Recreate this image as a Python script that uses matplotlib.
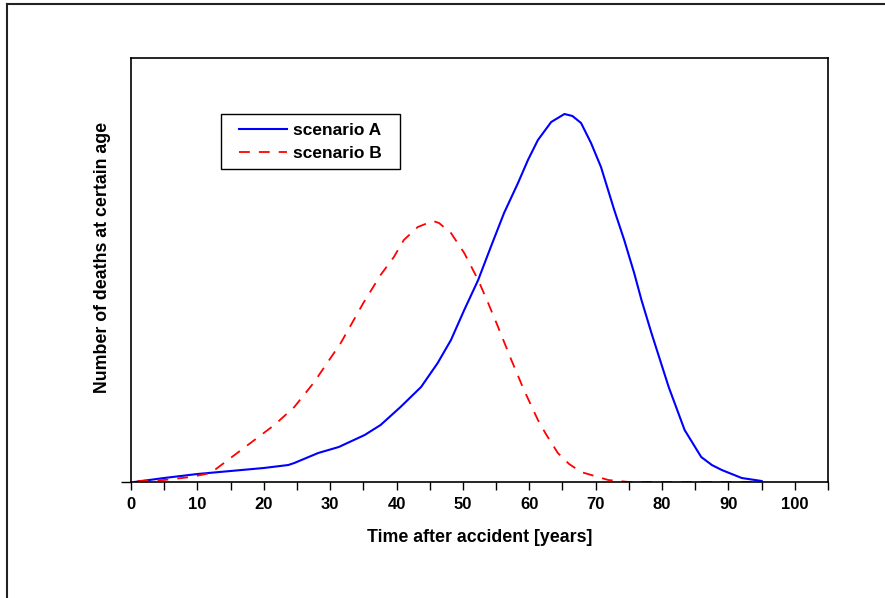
import matplotlib
matplotlib.use("Agg")
import matplotlib.pyplot as plt
from matplotlib.lines import Line2D
from matplotlib.legend_handler import HandlerLine2D

# values (y in arbitrary units, no scale shown)
years_a = [0.5, 5, 10, 15, 20, 23.7, 24.6, 28.2, 31.3, 35.2, 37.6, 40.6, 43.7,
           46.2, 48.2, 50.2, 52.3, 54.2, 56.2, 58.3, 59.8, 61.3, 63.3, 65.3,
           66.5, 67.8, 69.3, 70.8, 72.8, 74.3, 75.8, 76.9, 78.4, 81, 83.4,
           85.9, 87.5, 89, 92, 95]
deaths_a = [0, 4, 8, 11, 14, 17, 19, 29, 35, 47, 57, 75, 95,
            119, 142, 172, 202, 235, 269, 299, 322, 342, 360, 368,
            366, 359, 339, 315, 272, 242, 209, 182, 149, 95, 52,
            25, 17, 12, 4, 1]

years_b = [1, 5, 9, 12, 14, 16.6, 19.2, 21.6, 24.6, 27.5, 31.6, 35, 37.6,
           39.6, 41.1, 43.2, 45.5, 46.4, 48.2, 50.2, 52.3, 53.8, 55.3, 57.3,
           59.2, 61.3, 62.5, 64.3, 66, 67.8, 71.9, 75, 80, 85, 90, 95]
deaths_b = [1, 2, 5, 9, 19, 32, 45, 57, 75, 99, 139, 179, 207,
            225, 242, 255, 261, 259, 249, 229, 202, 179, 155, 122,
            92, 62, 48, 29, 18, 10, 2, 0, 0, 0, 0, 0]

labels = ["scenario A  ", "scenario B  "]
x_ticks = list(range(0, 106, 5))
x_ticklabels = [str(t) if t % 10 == 0 else "" for t in x_ticks]

plt.rcParams['font.family'] = ['Liberation Sans', 'DejaVu Sans']
plt.rcParams['font.weight'] = 'bold'

fig = plt.figure(figsize=(8.85, 5.98), dpi=100)
ax = fig.add_axes([131/885, 1 - 482/598, 697/885, 424/598])

ax.plot(years_a, deaths_a, color='#0000ff', lw=1.5, label=labels[0])
ax.plot(years_b, deaths_b, color='#ff0000', lw=1.3, ls=(0, (6, 5)), label=labels[1])

ax.set_xlim(0, 105)
ax.set_ylim(0, 424)
ax.set_xticks(x_ticks)
ax.set_xticklabels(x_ticklabels, fontsize=12, fontweight='bold')
ax.set_yticks([0])
ax.set_yticklabels([""])
ax.tick_params(axis='x', direction='out', length=5.5, width=1, pad=5.5)
ax.tick_params(axis='y', direction='out', length=7, width=1)
for s in ax.spines.values():
    s.set_linewidth(1.2)

ax.set_xlabel("Time after accident [years]", fontsize=12.8, fontweight='bold', labelpad=12)
ax.set_ylabel("Number of deaths at certain age", fontsize=12.8, fontweight='bold')
ax.yaxis.set_label_coords(-0.028, 0.53)

hmap = {l: HandlerLine2D(xpad=0.55) for l in ax.get_lines()}
leg = ax.legend(loc='upper left', bbox_to_anchor=(0.129, 0.868), borderaxespad=0,
                fancybox=False, framealpha=1, edgecolor='black',
                handlelength=3.31, handletextpad=0.34, labelspacing=0.45,
                borderpad=0.5, prop={'weight': 'bold', 'size': 12.5},
                handler_map=hmap)
leg.get_frame().set_linewidth(1.0)

# outer frame of the original figure (only top and left edges visible)
fig.add_artist(Line2D([7/885, 7/885], [0, 1 - 4/598], color='#222222', lw=1.5))
fig.add_artist(Line2D([7/885, 1], [1 - 4/598, 1 - 4/598], color='#222222', lw=1.5))

fig.savefig("out.png", dpi=100)
